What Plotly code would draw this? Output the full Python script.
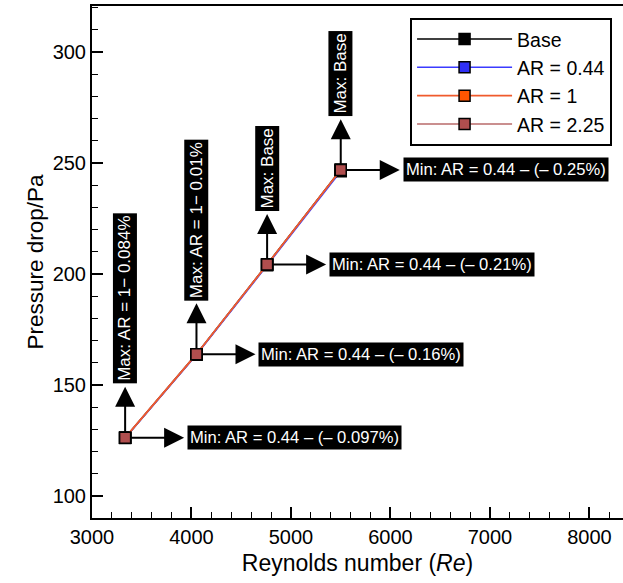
import plotly.graph_objects as go

# ---- data ----
reynolds = [3333, 4050, 4760, 5500]
base = [126.2, 163.9, 204.3, 246.9]
ar_044 = [126.1, 163.6, 203.9, 246.3]
ar_1 = [126.3, 163.9, 204.3, 246.9]
ar_225 = [126.2, 163.9, 204.25, 246.85]

max_labels = ["Max: AR = 1− 0.084%", "Max: AR = 1− 0.01%", "Max: Base", "Max: Base"]
min_labels = ["Min: AR = 0.44 – (– 0.097%)", "Min: AR = 0.44 – (– 0.16%)",
              "Min: AR = 0.44 – (– 0.21%)", "Min: AR = 0.44 – (– 0.25%)"]

FONT = "Liberation Sans, Arial, Helvetica, sans-serif"

# Helvetica/Arial advance widths (per 1000 em) for text-length estimates
_W = {" ": 278, "M": 833, "a": 556, "x": 500, ":": 278, "A": 667, "R": 722,
      "=": 584, "−": 584, "–": 556, ".": 278, "%": 889, "B": 667, "s": 500,
      "e": 556, "i": 222, "n": 556, "(": 333, ")": 333}


def text_len(s, size):
    return sum(_W.get(c, 556) for c in s) / 1000.0 * size


fig = go.Figure()


def add_series(name, y, line_color, marker_color, rank, width=1.6):
    fig.add_trace(go.Scatter(
        x=reynolds, y=y, name=name, mode="lines+markers", legendrank=rank,
        line=dict(color=line_color, width=width),
        marker=dict(symbol="square", size=11, color=marker_color,
                    line=dict(color="black", width=1.5)),
    ))


add_series("Base", base, "black", "black", 1)
add_series("AR = 0.44", ar_044, "#3b3bff", "#2f2ff5", 2)
add_series("AR = 2.25", ar_225, "#b86a6a", "#b04e4e", 4)
add_series("AR = 1", ar_1, "#f05a2c", "#ff5500", 3)
# AR = 2.25 markers drawn on top
fig.add_trace(go.Scatter(
    x=reynolds, y=ar_225, mode="markers", showlegend=False, hoverinfo="skip",
    marker=dict(symbol="square", size=11, color="#b04e4e",
                line=dict(color="black", width=1.5)),
))

VS = 17  # vertical label font size
HS = 16.6  # horizontal label font size
PAD = 2
common = dict(showarrow=True, arrowside="start", startarrowhead=2, startarrowsize=2.0,
              arrowwidth=2, arrowcolor="black", bgcolor="black", borderpad=PAD)

for xv, yv, lab in zip(reynolds, ar_225, max_labels):
    box_len = text_len(lab, VS) + 2 * PAD + 2
    fig.add_annotation(x=xv, y=yv, text=lab, ax=0, ay=-(53 + box_len / 2),
                       textangle=-90, xanchor="center", yanchor="middle",
                       standoff=6, startstandoff=3,
                       font=dict(family=FONT, size=VS, color="white"), **common)
for xv, yv, lab in zip(reynolds, ar_225, min_labels):
    fig.add_annotation(x=xv, y=yv, text=lab, ax=62, ay=0,
                       xanchor="left", yanchor="middle", standoff=6,
                       startstandoff=3,
                       font=dict(family=FONT, size=HS, color="white"), **common)

fig.update_layout(
    width=623, height=583,
    margin=dict(l=92, r=0, t=6, b=65),
    paper_bgcolor="white", plot_bgcolor="white",
    font=dict(family=FONT, color="black"),
    showlegend=True,
    legend=dict(x=0.599, y=0.977, xanchor="left", yanchor="top",
                bordercolor="black", borderwidth=2, bgcolor="white",
                font=dict(family=FONT, size=19.5, color="black"),
                itemwidth=95, tracegroupgap=0),
    xaxis=dict(range=[3000, 8337], tickmode="linear", tick0=3000, dtick=1000,
               ticks="inside", ticklen=11, tickwidth=2, tickcolor="black",
               showline=True, linewidth=2, linecolor="black", mirror=True,
               showgrid=False, zeroline=False,
               tickfont=dict(family=FONT, size=20, color="black"),
               minor=dict(dtick=200, ticks="inside", ticklen=6, tickwidth=1,
                          tickcolor="black", showgrid=False),
               title=dict(text="Reynolds number (<i>Re</i>)",
                          font=dict(family=FONT, size=23, color="black"),
                          standoff=8)),
    yaxis=dict(range=[90.1, 320.7], tickmode="linear", tick0=100, dtick=50,
               ticks="inside", ticklen=11, tickwidth=2, tickcolor="black",
               showline=True, linewidth=2, linecolor="black", mirror=False,
               showgrid=False, zeroline=False,
               tickfont=dict(family=FONT, size=20, color="black"),
               minor=dict(dtick=10, ticks="inside", ticklen=6, tickwidth=1,
                          tickcolor="black", showgrid=False),
               title=dict(text="Pressure drop/Pa",
                          font=dict(family=FONT, size=22.5, color="black"),
                          standoff=3)),
)

fig.write_html("out.html")
